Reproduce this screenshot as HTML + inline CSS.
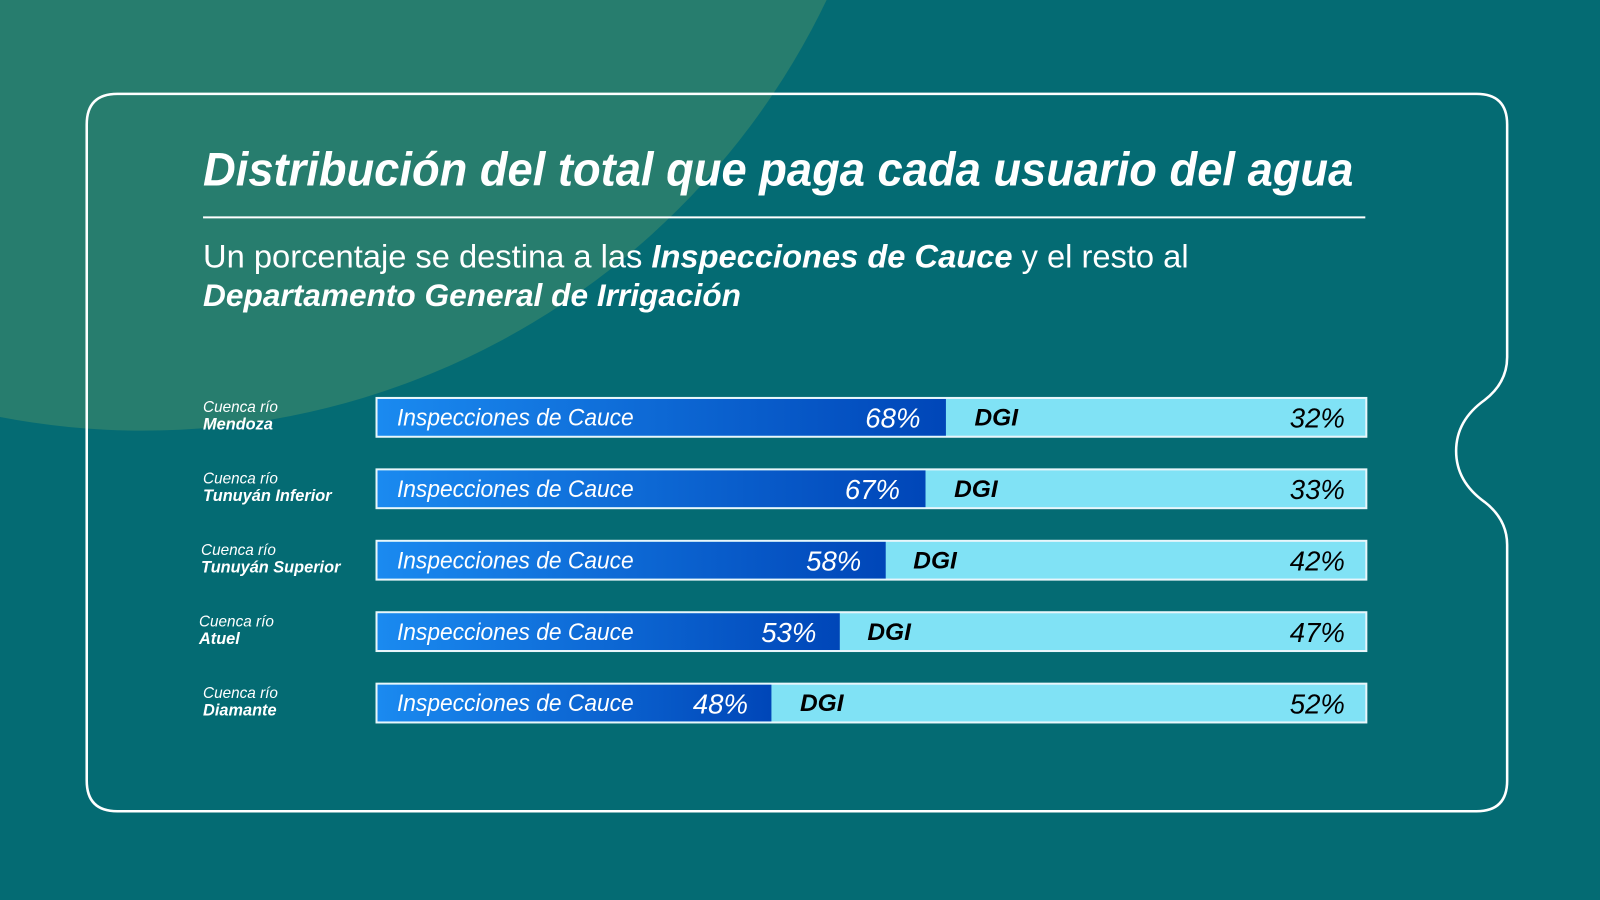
<!DOCTYPE html>
<html><head><meta charset="utf-8"><style>
html,body{margin:0;padding:0;width:1600px;height:900px;overflow:hidden;background:#046b73}
#w{position:absolute;left:0;top:0;width:1568px;height:882px;transform:scale(1.020408);transform-origin:0 0;font-family:"Liberation Sans",sans-serif;color:#fff}
.t{position:absolute;white-space:nowrap;font-style:italic}
.bar{position:absolute;left:370px;width:968px;height:36px;background:#80e2f5;box-shadow:0 0 0 2px #e8f6fb;top:391px}
.dk{position:absolute;left:0;top:0;height:36px;background:linear-gradient(90deg,#1a8af0,#0046b8)}
.bar span{position:absolute;top:1px;line-height:36px;font-style:italic;font-size:24px}
.bar .ic{left:19px;transform:scaleX(0.93);transform-origin:0 50%}
.lab{position:absolute;left:199px;font-style:italic;font-size:15px;line-height:17px}
.lab b{font-size:16px}
</style></head><body><div id="w">
<svg width="1568" height="882" style="position:absolute;left:0;top:0">
<circle cx="140" cy="-321" r="743" fill="#277d6e"/>
<path d="M115 92 H1447 Q1477 92 1477 122 V350 Q1477 375 1455 392 Q1427 412 1427 442 Q1427 472 1455 492 Q1477 509 1477 534 V765 Q1477 795 1447 795 H115 Q85 795 85 765 V122 Q85 92 115 92 Z" fill="none" stroke="#fff" stroke-width="2.5"/>
<line x1="199" y1="213" x2="1338" y2="213" stroke="#fff" stroke-width="2"/>
</svg>
<div class="t" style="left:199px;top:139px;font-size:46px;font-weight:bold;transform:scaleX(0.965);transform-origin:0 0">Distribución del total que paga cada usuario del agua</div>
<div class="t" style="left:199px;top:233px;font-size:32px;font-style:normal">Un porcentaje se destina a las <b><i>Inspecciones de Cauce</i></b> y el resto al</div>
<div class="t" style="left:199px;top:272px;font-size:31px;font-weight:bold">Departamento General de Irrigación</div>

<div class="lab" style="top:391px">Cuenca río<br><b>Mendoza</b></div>
<div class="lab" style="top:461px">Cuenca río<br><b>Tunuyán Inferior</b></div>
<div class="lab" style="top:531px;left:197px">Cuenca río<br><b>Tunuyán Superior</b></div>
<div class="lab" style="top:601px;left:195px">Cuenca río<br><b>Atuel</b></div>
<div class="lab" style="top:671px">Cuenca río<br><b>Diamante</b></div>

<div class="bar"><div class="dk" style="width:557px"></div><span class="ic">Inspecciones de Cauce</span><span style="left:478px;font-size:27px">68%</span><span style="left:585px;color:#000;font-weight:bold">DGI</span><span style="right:20px;color:#000;font-size:27px">32%</span></div>
<div class="bar" style="top:461px"><div class="dk" style="width:537px"></div><span class="ic">Inspecciones de Cauce</span><span style="left:458px;font-size:27px">67%</span><span style="left:565px;color:#000;font-weight:bold">DGI</span><span style="right:20px;color:#000;font-size:27px">33%</span></div>
<div class="bar" style="top:531px"><div class="dk" style="width:498px"></div><span class="ic">Inspecciones de Cauce</span><span style="left:420px;font-size:27px">58%</span><span style="left:525px;color:#000;font-weight:bold">DGI</span><span style="right:20px;color:#000;font-size:27px">42%</span></div>
<div class="bar" style="top:601px"><div class="dk" style="width:453px"></div><span class="ic">Inspecciones de Cauce</span><span style="left:376px;font-size:27px">53%</span><span style="left:480px;color:#000;font-weight:bold">DGI</span><span style="right:20px;color:#000;font-size:27px">47%</span></div>
<div class="bar" style="top:671px"><div class="dk" style="width:386px"></div><span class="ic">Inspecciones de Cauce</span><span style="left:309px;font-size:27px">48%</span><span style="left:414px;color:#000;font-weight:bold">DGI</span><span style="right:20px;color:#000;font-size:27px">52%</span></div>
</div></body></html>
